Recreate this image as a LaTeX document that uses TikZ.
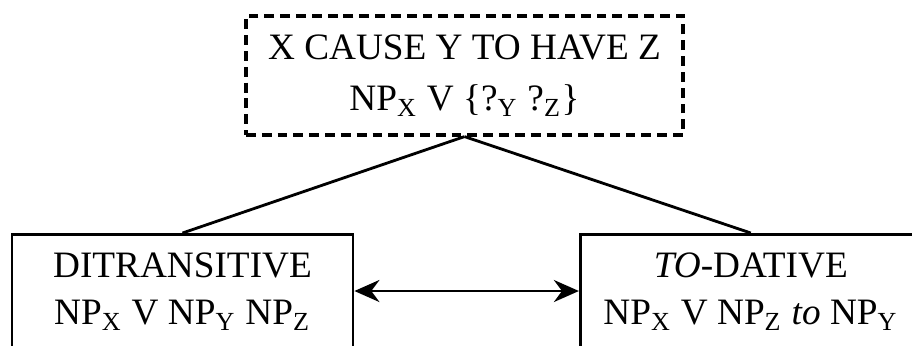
\documentclass[tikz,border=0pt]{standalone}
\usepackage{fontspec}
\setmainfont{Liberation Serif}
\usepackage{tikz}
\usetikzlibrary{arrows.meta,positioning}
\newcommand{\npsub}[1]{NP\textsubscript{#1}}
\newcommand{\qsub}[1]{?\textsubscript{#1}}

\begin{document}
\begin{tikzpicture}[
    box/.style={draw, rectangle, line width=0.8pt, align=center, minimum width=3.41cm, inner xsep=0pt},
    sense/.style={box, line width=0.9pt, dash pattern=on 2.8pt off 1.7pt, minimum width=4.37cm, minimum height=1.19cm, font=\fontsize{10.6}{14.7}\selectfont},
    cxn/.style={box, anchor=north, inner ysep=0.187cm, font=\fontsize{10.6}{13.3}\selectfont},
    link/.style={line width=0.8pt},
    arrow/.style={{Stealth[length=0.25cm,width=0.22cm]}-{Stealth[length=0.25cm,width=0.22cm]}, line width=0.8pt}
]
    \useasboundingbox (0,0) rectangle (9.12,3.45);
    \clip (0,0) rectangle (9.12,3.45);

    % --- Shared meaning (dashed) ---
    \node[sense] (cause) at (4.645,2.695) {X CAUSE Y TO HAVE Z\\\npsub{X} V \{\qsub{Y} \qsub{Z}\}};

    % --- The two constructions (cut off at the bottom) ---
    \node[cxn] (ditrans) at (1.825,1.12) {DITRANSITIVE\\\npsub{X} V \npsub{Y} \npsub{Z}\rule[-1cm]{0pt}{0pt}};
    \node[cxn] (todat) [right=2.245cm of ditrans] {\textit{TO}-DATIVE\\\npsub{X} V \npsub{Z} \textit{to} \npsub{Y}\rule[-1cm]{0pt}{0pt}};

    % --- Links ---
    \draw[link] (cause.south) -- (ditrans.north);
    \draw[link] (cause.south) -- (todat.north);
    \draw[arrow] ([yshift=-0.58cm]ditrans.north east) -- ([yshift=-0.58cm]todat.north west);

\end{tikzpicture}
\end{document}
